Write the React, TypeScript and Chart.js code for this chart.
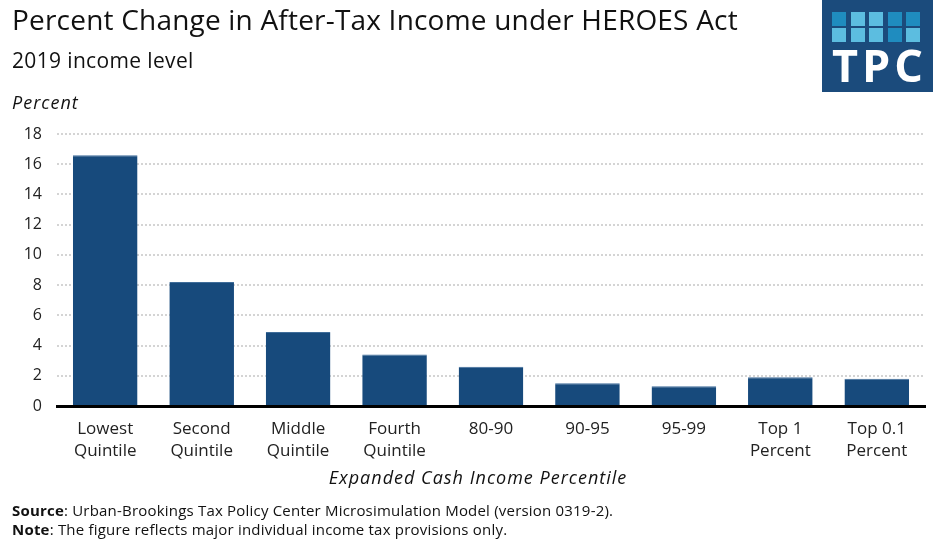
import React, { useEffect, useRef } from "react";
import { Chart, registerables } from "chart.js";

Chart.register(...registerables);

const categories: string[][] = [
  ["Lowest", "Quintile"],
  ["Second", "Quintile"],
  ["Middle", "Quintile"],
  ["Fourth", "Quintile"],
  ["80-90"],
  ["90-95"],
  ["95-99"],
  ["Top 1", "Percent"],
  ["Top 0.1", "Percent"],
];
const percentChange: number[] = [16.6, 8.2, 4.9, 3.4, 2.6, 1.5, 1.3, 1.9, 1.8];
const yTicks: number[] = [0, 2, 4, 6, 8, 10, 12, 14, 16, 18];

const FONT = "'Open Sans', Lato, sans-serif";
const BAR = "#174a7c";
const LOGO_BG = "#1b4b7c";
const LOGO_DARK = "#1f8cbf";
const LOGO_LIGHT = "#5cbde0";
const logoPattern: number[][] = [
  [0, 1, 1, 0, 0],
  [1, 1, 1, 0, 1],
];

export default function App() {
  const ref = useRef<HTMLCanvasElement | null>(null);

  useEffect(() => {
    if (!ref.current) return;
    const chart = new Chart(ref.current, {
      type: "bar",
      data: {
        labels: categories,
        datasets: [
          {
            data: percentChange,
            backgroundColor: BAR,
            borderColor: "#3f6d9a",
            borderWidth: { top: 1, left: 0, right: 0, bottom: 0 } as any,
            barPercentage: 0.67,
            categoryPercentage: 1,
          },
        ],
      },
      options: {
        responsive: false,
        animation: false,
        devicePixelRatio: 1,
        layout: { padding: { top: 134, right: 8, left: 0, bottom: 0 } },
        plugins: { legend: { display: false }, tooltip: { enabled: false }, title: { display: false } },
        scales: {
          x: {
            grid: { display: false },
            border: { display: true, color: "#000", width: 3 },
            ticks: {
              color: "#222",
              font: { family: FONT, size: 17, lineHeight: 1.3 },
              padding: 4,
              maxRotation: 0,
              autoSkip: false,
            },
            afterFit: (s: any) => {
              s.height = 140;
            },
          },
          y: {
            min: 0,
            max: 18,
            afterBuildTicks: (s: any) => {
              s.ticks = yTicks.map((v) => ({ value: v }));
            },
            grid: {
              color: "#d4d4d4",
              lineWidth: 2,
              drawTicks: false,
            },
            border: { display: false, dash: [2, 2] },
            ticks: {
              color: "#222",
              font: { family: FONT, size: 16 },
              padding: 15,
            },
            afterFit: (s: any) => {
              s.width = 57;
            },
          },
        },
      },
    });
    return () => chart.destroy();
  }, []);

  return (
    <div style={{ position: "absolute", left: 0, top: 0, width: 933, height: 546, background: "#fff", fontFamily: FONT, color: "#111" }}>
      <canvas ref={ref} width={933} height={546} style={{ position: "absolute", left: 0, top: 0 }} />
      <div style={{ position: "absolute", left: 12, top: 0, fontSize: 28, letterSpacing: 0.2, whiteSpace: "nowrap" }}>
        Percent Change in After-Tax Income under HEROES Act
      </div>
      <div style={{ position: "absolute", left: 12, top: 46, fontSize: 21, letterSpacing: 0.35, whiteSpace: "nowrap" }}>2019 income level</div>
      <div style={{ position: "absolute", left: 12, top: 90, fontSize: 18, letterSpacing: 1, fontStyle: "italic", whiteSpace: "nowrap" }}>Percent</div>
      <div style={{ position: "absolute", left: 44, width: 868, top: 465, fontSize: 18, letterSpacing: 1, fontStyle: "italic", textAlign: "center", whiteSpace: "nowrap" }}>
        Expanded Cash Income Percentile
      </div>
      <div style={{ position: "absolute", left: 12, top: 500, fontSize: 15, letterSpacing: 0.2, whiteSpace: "nowrap" }}>
        <b>Source</b>: Urban-Brookings Tax Policy Center Microsimulation Model (version 0319-2).
      </div>
      <div style={{ position: "absolute", left: 12, top: 519, fontSize: 15, letterSpacing: 0.2, whiteSpace: "nowrap" }}>
        <b>Note</b>: The figure reflects major individual income tax provisions only.
      </div>
      <div style={{ position: "absolute", left: 822, top: 0, width: 111, height: 92, background: LOGO_BG }}>
        {logoPattern.map((row, r) =>
          row.map((d, ci) => (
            <div
              key={r + "-" + ci}
              style={{
                position: "absolute",
                left: 10 + ci * 18.5,
                top: 12 + r * 16,
                width: 14,
                height: 14,
                background: d ? LOGO_LIGHT : LOGO_DARK,
              }}
            />
          ))
        )}
        <div style={{ position: "absolute", left: 0, width: 111, top: 42, paddingLeft: 4, boxSizing: "border-box", textAlign: "center", color: "#fff", fontSize: 45, fontWeight: 700, letterSpacing: 4, fontFamily: "'Open Sans', sans-serif", lineHeight: "46px" }}>
          TPC
        </div>
      </div>
    </div>
  );
}
